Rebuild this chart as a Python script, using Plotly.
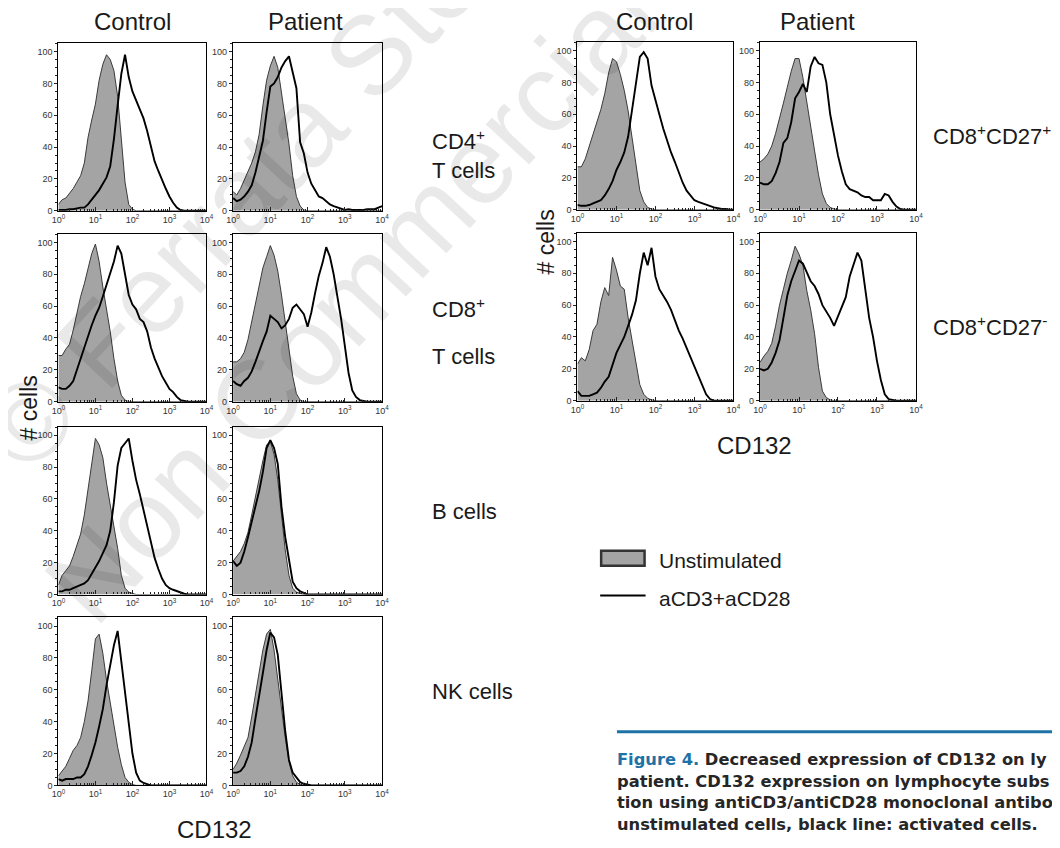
import plotly.graph_objects as go

# ---------------- data ----------------
# CD132 fluorescence bins, log10 units (10^0 ... 10^4)
LOG_BINS = [0.0, 0.1, 0.2, 0.3, 0.4, 0.5, 0.6, 0.7, 0.8, 0.9,
            1.0, 1.1, 1.2, 1.3, 1.4, 1.5, 1.6, 1.7, 1.8, 1.9,
            2.0, 2.1, 2.2, 2.3, 2.4, 2.5, 2.6, 2.7, 2.8, 2.9,
            3.0, 3.1, 3.2, 3.3, 3.4, 3.5, 3.6, 3.7, 3.8, 3.9, 4.0]

# % of max (# cells); unstimulated (grey fill) and aCD3+aCD28 (black line)
CD4_CTRL_UNSTIM = [4, 7, 8, 11, 14, 18, 22, 30, 46, 57, 67, 82, 92, 98, 95, 88, 72, 45, 18, 4,
                   1, 0, 0, 0, 0, 0, 0, 0, 0, 0, 0, 0, 0, 0, 0, 0, 0, 0, 0, 0, 0]
CD4_CTRL_STIM = [0.5, 0.5, 0.5, 1, 1, 1.5, 2, 2, 4, 7, 10, 13, 17, 21, 28, 45, 66, 86, 98, 84,
                 75, 69, 64, 58, 50, 41, 31, 25, 19, 14, 9, 5, 2, 0.5, 0, 0, 0, 0, 0, 0, 0]
CD4_PAT_UNSTIM = [12, 10, 14, 19, 25, 30, 37, 48, 66, 82, 91, 97, 90, 75, 58, 42, 22, 9, 3, 0.5,
                  0, 0, 0, 0, 0, 0, 0, 0, 0, 0, 0, 0, 0, 0, 0, 0, 0, 0, 0, 0, 0]
CD4_PAT_STIM = [8, 6, 7, 9, 12, 16, 24, 35, 44, 62, 78, 80, 84, 90, 94, 97, 86, 77, 43, 36,
                24, 17, 13, 9, 8, 6, 4, 3, 2, 1, 0.5, 1, 0.5, 0.5, 0.5, 0.5, 1, 1, 1, 2, 3]

CD8_CTRL_UNSTIM = [29, 29, 33, 36, 45, 56, 66, 74, 84, 93, 99, 88, 72, 58, 44, 27, 13, 4, 1, 0,
                   0, 0, 0, 0, 0, 0, 0, 0, 0, 0, 0, 0, 0, 0, 0, 0, 0, 0, 0, 0, 0]
CD8_CTRL_STIM = [9, 8, 8, 10, 13, 20, 27, 35, 42, 48, 54, 59, 66, 73, 80, 88, 98, 93, 80, 67,
                 61, 58, 52, 50, 44, 34, 27, 21, 16, 12, 8, 6, 3, 1, 0.5, 0, 0, 0, 0, 0, 0]
CD8_PAT_UNSTIM = [25, 25, 27, 31, 39, 50, 60, 72, 84, 91, 98, 92, 82, 67, 50, 33, 16, 5, 1, 0,
                  0, 0, 0, 0, 0, 0, 0, 0, 0, 0, 0, 0, 0, 0, 0, 0, 0, 0, 0, 0, 0]
CD8_PAT_STIM = [13, 11, 10, 13, 15, 19, 25, 32, 38, 44, 54, 52, 50, 46, 48, 52, 59, 61, 58, 55,
                47, 56, 68, 79, 87, 97, 91, 80, 66, 52, 35, 18, 7, 3, 1, 0.5, 0, 0, 0, 0, 0]

B_CTRL_UNSTIM = [6, 12, 15, 18, 24, 31, 38, 50, 67, 84, 98, 94, 86, 70, 56, 42, 29, 12, 4, 1.5,
                 0.5, 0, 0, 0, 0, 0, 0, 0, 0, 0, 0, 0, 0, 0, 0, 0, 0, 0, 0, 0, 0]
B_CTRL_STIM = [2, 2, 3, 3, 4, 5, 6, 7, 9, 13, 17, 21, 26, 31, 40, 58, 81, 92, 95, 98,
               84, 72, 63, 53, 43, 33, 23, 16, 10, 6, 4, 3, 2, 1, 0.5, 0, 0, 0, 0, 0, 0]
B_PAT_UNSTIM = [21, 24, 27, 32, 39, 50, 62, 74, 84, 94, 96, 88, 72, 50, 28, 12, 4, 1.5, 0.5, 0,
                0, 0, 0, 0, 0, 0, 0, 0, 0, 0, 0, 0, 0, 0, 0, 0, 0, 0, 0, 0, 0]
B_PAT_STIM = [21, 18, 20, 27, 36, 46, 54, 65, 77, 92, 97, 92, 82, 55, 36, 22, 8, 4, 2, 1,
              0, 0, 0, 0, 0, 0, 0, 0, 0, 0, 0, 0, 0, 0, 0, 0, 0, 0, 0, 0, 0]

NK_CTRL_UNSTIM = [6, 9, 12, 17, 22, 25, 30, 40, 53, 72, 92, 95, 83, 66, 52, 37, 24, 13, 5, 2,
                  0.5, 0, 0, 0, 0, 0, 0, 0, 0, 0, 0, 0, 0, 0, 0, 0, 0, 0, 0, 0, 0]
NK_CTRL_STIM = [4, 3, 4, 4, 4, 5, 5, 7, 12, 19, 27, 37, 48, 63, 75, 88, 97, 77, 57, 37,
                20, 8, 3, 1.5, 0.5, 0, 0, 0, 0, 0, 0, 0, 0, 0, 0, 0, 0, 0, 0, 0, 0]
NK_PAT_UNSTIM = [10, 14, 19, 24, 30, 43, 58, 72, 85, 95, 98, 85, 66, 47, 30, 15, 6, 2, 0.5, 0,
                 0, 0, 0, 0, 0, 0, 0, 0, 0, 0, 0, 0, 0, 0, 0, 0, 0, 0, 0, 0, 0]
NK_PAT_STIM = [8, 8, 9, 12, 18, 27, 42, 57, 72, 85, 96, 93, 82, 56, 34, 16, 8, 5, 2, 1,
               0.5, 0, 0, 0, 0, 0, 0, 0, 0, 0, 0, 0, 0, 0, 0, 0, 0, 0, 0, 0, 0]

CD27P_CTRL_UNSTIM = [27, 27, 32, 40, 48, 55, 63, 73, 86, 95, 93, 85, 75, 62, 45, 27, 12, 5, 1.5, 0.5,
                     0, 0, 0, 0, 0, 0, 0, 0, 0, 0, 0, 0, 0, 0, 0, 0, 0, 0, 0, 0, 0]
CD27P_CTRL_STIM = [3, 2.5, 2.5, 3, 4, 5, 6, 9, 13, 18, 25, 30, 36, 46, 63, 82, 96, 99, 95, 78,
                   68, 60, 51, 43, 36, 30, 23, 17, 12, 9, 6, 5, 4, 3, 2, 1.5, 1, 0.5, 0.5, 0, 0]
CD27P_PAT_UNSTIM = [30, 32, 35, 40, 48, 57, 67, 77, 87, 95, 95, 83, 67, 52, 37, 22, 10, 4, 1.5, 0.5,
                    0, 0, 0, 0, 0, 0, 0, 0, 0, 0, 0, 0, 0, 0, 0, 0, 0, 0, 0, 0, 0]
CD27P_PAT_STIM = [17, 16, 16, 18, 23, 30, 42, 45, 55, 70, 74, 79, 74, 90, 96, 92, 91, 80, 60, 47,
                  34, 24, 16, 13, 12, 11, 9, 8, 8, 6, 6, 6, 10, 9, 5, 2, 0.5, 0, 0, 0, 0]

CD27N_CTRL_UNSTIM = [23, 27, 25, 32, 44, 48, 62, 71, 66, 90, 82, 72, 70, 52, 38, 23, 10, 4, 1.5, 0.5,
                     0, 0, 0, 0, 0, 0, 0, 0, 0, 0, 0, 0, 0, 0, 0, 0, 0, 0, 0, 0, 0]
CD27N_CTRL_STIM = [6, 3, 3, 3, 4, 5, 8, 12, 15, 22, 30, 35, 40, 47, 54, 63, 80, 93, 85, 96,
                   78, 70, 66, 62, 57, 50, 44, 39, 33, 27, 21, 15, 9, 4, 1, 0, 0, 0, 0, 0, 0]
CD27N_PAT_UNSTIM = [24, 28, 31, 36, 47, 60, 70, 80, 88, 97, 92, 85, 69, 57, 42, 21, 6, 2, 0.5, 0,
                    0, 0, 0, 0, 0, 0, 0, 0, 0, 0, 0, 0, 0, 0, 0, 0, 0, 0, 0, 0, 0]
CD27N_PAT_STIM = [20, 19, 20, 24, 30, 38, 52, 66, 75, 82, 88, 86, 80, 75, 72, 67, 60, 56, 52, 47,
                  53, 59, 65, 78, 85, 93, 88, 70, 52, 40, 25, 13, 4, 1, 0.5, 0, 0, 0, 0, 0, 0]

Y_TICKS = [0, 20, 40, 60, 80, 100]
X_TICKS = [1, 10, 100, 1000, 10000]
X_TICK_TEXT = ["10<sup>0</sup>", "10<sup>1</sup>", "10<sup>2</sup>", "10<sup>3</sup>", "10<sup>4</sup>"]

COL_TITLES = ["Control", "Patient"]
LEGEND_NAMES = ["Unstimulated", "aCD3+aCD28"]
CAPTION_LINES = [
    "Decreased expression of CD132 on ly",
    "patient. CD132 expression on lymphocyte subs",
    "tion using antiCD3/antiCD28 monoclonal antibo",
    "unstimulated cells, black line: activated cells.",
]

# ---------------- layout geometry ----------------
# Target positions are pixels of the 1060x848 picture; the page body adds an 8 px
# margin around the figure, so figure coordinates are offset by that amount.
W, H = 1060, 848
PAGE_OFF = 8
FONT = "Liberation Sans, Arial, Helvetica, sans-serif"
GREY_FILL = "#a4a4a4"

def px(x):
    return (x - PAGE_OFF) / W

def py(y):
    return 1 - (y - PAGE_OFF) / H

# (panel data, x-pixel span, y-pixel span)
panels = [
    (CD4_CTRL_UNSTIM, CD4_CTRL_STIM, (52, 202), (43, 212)),
    (CD4_PAT_UNSTIM, CD4_PAT_STIM, (229, 380), (43, 212)),
    (CD8_CTRL_UNSTIM, CD8_CTRL_STIM, (52, 202), (235, 404)),
    (CD8_PAT_UNSTIM, CD8_PAT_STIM, (229, 380), (235, 404)),
    (B_CTRL_UNSTIM, B_CTRL_STIM, (52, 202), (429, 598)),
    (B_PAT_UNSTIM, B_PAT_STIM, (229, 380), (429, 598)),
    (NK_CTRL_UNSTIM, NK_CTRL_STIM, (52, 202), (621, 790)),
    (NK_PAT_UNSTIM, NK_PAT_STIM, (229, 380), (621, 790)),
    (CD27P_CTRL_UNSTIM, CD27P_CTRL_STIM, (578, 736), (42, 211)),
    (CD27P_PAT_UNSTIM, CD27P_PAT_STIM, (763, 921), (42, 211)),
    (CD27N_CTRL_UNSTIM, CD27N_CTRL_STIM, (578, 736), (234, 403)),
    (CD27N_PAT_UNSTIM, CD27N_PAT_STIM, (763, 921), (234, 403)),
]

X_VALUES = [10 ** v for v in LOG_BINS]

fig = go.Figure()
layout_axes = {}
for i, (unstim, stim, (x0, x1), (y0, y1)) in enumerate(panels, start=1):
    sfx = "" if i == 1 else str(i)
    fig.add_trace(go.Scatter(
        x=X_VALUES, y=unstim, xaxis="x" + sfx, yaxis="y" + sfx,
        mode="lines", fill="tozeroy", fillcolor=GREY_FILL,
        line=dict(color="#3a3a3a", width=1), name=LEGEND_NAMES[0],
        showlegend=False, hoverinfo="skip"))
    fig.add_trace(go.Scatter(
        x=X_VALUES, y=stim, xaxis="x" + sfx, yaxis="y" + sfx,
        mode="lines", line=dict(color="black", width=1.9),
        name=LEGEND_NAMES[1], showlegend=False, hoverinfo="skip"))
    layout_axes["xaxis" + sfx] = dict(
        domain=[px(x0), px(x1)], anchor="y" + sfx, type="log", range=[0, 4],
        tickvals=X_TICKS, ticktext=X_TICK_TEXT, ticks="inside", ticklen=4,
        tickcolor="#222", tickfont=dict(family=FONT, size=9, color="#333"),
        minor=dict(dtick="D1", ticks="inside", ticklen=2, tickcolor="#222"),
        showline=True, linecolor="black", linewidth=1.3, mirror=True,
        showgrid=False, zeroline=False, fixedrange=True)
    layout_axes["yaxis" + sfx] = dict(
        domain=[py(y1), py(y0)], anchor="x" + sfx, range=[0, 105.5],
        tickvals=Y_TICKS, ticks="outside", ticklen=3, tickcolor="#222",
        tickfont=dict(family=FONT, size=9, color="#333"),
        minor=dict(dtick=5, ticks="outside", ticklen=2, tickcolor="#222"),
        showline=True, linecolor="black", linewidth=1.3, mirror=True,
        showgrid=False, zeroline=False, fixedrange=True)

annotations = []

def label(text, x, y, size, anchor="center", angle=0, family=FONT, color="#1a1a1a"):
    annotations.append(dict(text=text, x=px(x), y=py(y), xref="paper", yref="paper",
                            xanchor=anchor, yanchor="middle", showarrow=False,
                            textangle=angle, font=dict(family=family, size=size, color=color)))

# column titles
label(COL_TITLES[0], 127, 22, 24)
label(COL_TITLES[1], 302, 22, 24)
label(COL_TITLES[0], 656, 22, 24)
label(COL_TITLES[1], 821, 22, 24)

# row labels
annotations.append(dict(text="CD4<sup>+</sup><br>T cells", x=px(429), y=py(155),
                        xref="paper", yref="paper", xanchor="left", yanchor="middle",
                        align="left", showarrow=False,
                        font=dict(family=FONT, size=22, color="#1a1a1a")))
label("CD8<sup>+</sup>", 429, 310, 22, anchor="left")
label("T cells", 429, 359, 22, anchor="left")
label("B cells", 429, 514, 22, anchor="left")
label("NK cells", 429, 696, 22, anchor="left")
label("CD8<sup>+</sup>CD27<sup>+</sup>", 936, 136, 22, anchor="left")
label("CD8<sup>+</sup>CD27<sup>-</sup>", 936, 328, 22, anchor="left")

# axis titles
label("# cells", 22, 410, 23, angle=-90)
label("# cells", 546, 243, 23, angle=-90)
label("CD132", 210, 834, 24)
label("CD132", 757, 448, 24)

# legend
label(LEGEND_NAMES[0], 659, 564, 21, anchor="left")
label(LEGEND_NAMES[1], 659, 602, 21, anchor="left")

# caption
CAP_FONT = "DejaVu Sans, Verdana, sans-serif"
CAP_Y = [764, 786, 807, 829]
for k, line in enumerate(CAPTION_LINES):
    txt = ("<b><span style='color:#1f72a6'>Figure 4.</span> " + line + "</b>") if k == 0 \
        else "<b>" + line + "</b>"
    annotations.append(dict(text=txt, x=px(616), y=py(CAP_Y[k]), xref="paper", yref="paper",
                            xanchor="left", yanchor="middle", align="left", showarrow=False,
                            font=dict(family=CAP_FONT, size=16.3, color="#262626")))

# faint publisher watermark
WM = dict(family=FONT, size=112, color="rgba(0,0,0,0.085)")
annotations.append(dict(text="© Ferrata Storti Foundation", x=px(463), y=py(-46),
                        xref="paper", yref="paper", xanchor="center", yanchor="middle",
                        showarrow=False, textangle=-47, font=WM))
annotations.append(dict(text="Non Commercial", x=px(349), y=py(300),
                        xref="paper", yref="paper", xanchor="center", yanchor="middle",
                        showarrow=False, textangle=-47, font=WM))

shapes = [
    dict(type="rect", xref="paper", yref="paper", x0=px(602), x1=px(646), y0=py(569), y1=py(554),
         fillcolor=GREY_FILL, line=dict(color="#333", width=2.5)),
    dict(type="line", xref="paper", yref="paper", x0=px(601), x1=px(647), y0=py(599), y1=py(599),
         line=dict(color="black", width=2.2)),
    dict(type="line", xref="paper", yref="paper", x0=px(618), x1=1, y0=py(736), y1=py(736),
         line=dict(color="#1f72a6", width=3)),
]

fig.update_layout(
    width=W, height=H, margin=dict(l=0, r=0, t=0, b=0),
    paper_bgcolor="white", plot_bgcolor="white",
    showlegend=False, annotations=annotations, shapes=shapes,
    **layout_axes)

fig.write_html("out.html")
